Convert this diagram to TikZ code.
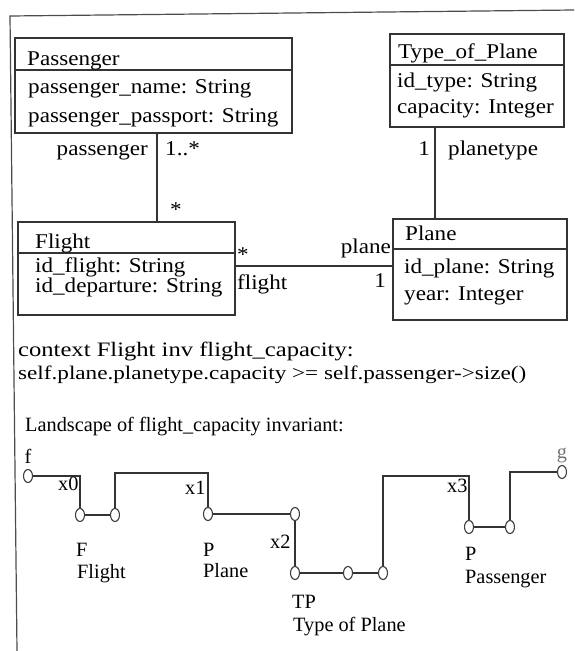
\documentclass[tikz,border=0pt]{standalone}
\usepackage{fontspec}
\setmainfont{Liberation Serif}
\newfontfamily\boxf{Liberation Serif}[FakeStretch=1.1]
\newfontfamily\widef{Liberation Serif}[FakeStretch=1.2]
\usetikzlibrary{shapes.geometric}
\begin{document}
\begin{tikzpicture}[x=1pt,y=-1pt,
  ln/.style={draw=black!80, line width=1.2pt},
  cbox/.style={ln, anchor=north west, inner sep=0pt, outer sep=0pt},
  bt/.style={anchor=base west, inner sep=0pt, font=\boxf\fontsize{21}{25}\selectfont},
  bte/.style={bt, anchor=base east},
  btc/.style={bt, anchor=base},
  lt/.style={anchor=base west, inner sep=0pt, font=\fontsize{20.3}{24}\selectfont},
  ltc/.style={lt, anchor=base},
  pt/.style={ellipse, draw=black!75, line width=1.1pt, minimum width=9pt, minimum height=13pt, inner sep=0pt},
  wire/.style={draw=black!80, line width=1.1pt},
  frame/.style={draw=black!70, line width=1.2pt},
]
\useasboundingbox (0,0) rectangle (574,651);
% frame
\draw[frame] (17,651) -- (10,16) -- (574,10);

% ---------- class boxes ----------
\node[cbox, minimum width=277pt, minimum height=32pt] (pasH) at (15,38) {};
\node[cbox, minimum width=277pt, minimum height=63pt] (pasB) at (15,70) {};
\node[bt] (pasT) at (27,65) {Passenger};
\node[bt] (pasA1) at (28,93) {passenger\_name: String};
\node[bt] (pasA2) at (28,122) {passenger\_passport: String};

\node[cbox, minimum width=174pt, minimum height=31pt] (typH) at (390,34) {};
\node[cbox, minimum width=174pt, minimum height=62pt] (typB) at (390,65) {};
\node[bt] (typT) at (398,58) {Type\_of\_Plane};
\node[bt] (typA1) at (397,87) {id\_type: String};
\node[bt] (typA2) at (397,113) {capacity: Integer};

\node[cbox, minimum width=217pt, minimum height=31pt] (fltH) at (18,222) {};
\node[cbox, minimum width=217pt, minimum height=62pt] (fltB) at (18,253) {};
\node[bt] (fltT) at (35,248) {Flight};
\node[bt] (fltA1) at (35,272) {id\_flight: String};
\node[bt] (fltA2) at (35,292) {id\_departure: String};

\node[cbox, minimum width=174pt, minimum height=30pt] (plnH) at (393,219) {};
\node[cbox, minimum width=174pt, minimum height=71pt] (plnB) at (393,249) {};
\node[bt] (plnT) at (405,240) {Plane};
\node[bt] (plnA1) at (404,273) {id\_plane: String};
\node[bt] (plnA2) at (404,300) {year: Integer};

% ---------- associations ----------
\draw[ln] (157,0 |- pasB.south) -- (157,0 |- fltH.north);
\draw[ln] (435,0 |- typB.south) -- (435,0 |- plnH.north);
\draw[ln] (fltB.east |- 0,266) -- (plnB.west |- 0,266);

\node[bte] (lpas) at (148,155) {passenger};
\node[bt] (mpas) at (165,155) {1..*};
\node[bt] (mflt1) at (170,216) {*};
\node[bte] (mtyp) at (430,155) {1};
\node[bt] (ltyp) at (448,155) {planetype};
\node[bt] (mflt2) at (237,261) {*};
\node[bt] (lflt) at (237,289) {flight};
\node[bte] (lpln) at (391,253) {plane};
\node[bte] (mpln) at (386,287) {1};

% ---------- OCL ----------
\node[anchor=base west, inner sep=0pt, font=\widef\fontsize{20.5}{24}\selectfont] (ocl1) at (18,356) {context Flight inv flight\_capacity:};
\node[anchor=base west, inner sep=0pt, font=\widef\fontsize{19.3}{23}\selectfont] (ocl2) at (18,379) {self.plane.planetype.capacity >= self.passenger->size()};

% ---------- landscape ----------
\node[lt] (ltitle) at (25,431) {Landscape of flight\_capacity invariant:};

\node[pt] (f) at (28,476) {};
\node[pt] (F1) at (80,515) {};
\node[pt] (F2) at (115,515) {};
\node[pt] (P1) at (208,514) {};
\node[pt] (P2) at (295,514) {};
\node[pt] (TP1) at (295,573) {};
\node[pt] (TP2) at (348,573) {};
\node[pt] (TP3) at (383,573) {};
\node[pt] (PA1) at (469,527) {};
\node[pt] (PA2) at (510,527) {};
\node[pt] (G) at (562,472) {};
\coordinate (c1) at (160,473);
\coordinate (c2) at (420,476);

\draw[wire] (f) -| (F1);
\draw[wire] (F1) -- (F2);
\draw[wire] (F2) |- (c1) -| (P1);
\draw[wire] (P1) -- (P2);
\draw[wire] (P2) -- (TP1);
\draw[wire] (TP1) -- (TP2) -- (TP3);
\draw[wire] (TP3) |- (c2) -| (PA1);
\draw[wire] (PA1) -- (PA2);
\draw[wire] (PA2) |- (G);

\node[ltc] (lf) at (28,463) {f};
\node[ltc, text=black!55] (lg) at (562,458) {g};
\node[lt] (lx0) at (58,490) {x0};
\node[lt] (lx1) at (185,494) {x1};
\node[lt] (lx2) at (270,548) {x2};
\node[lt] (lx3) at (447,492) {x3};

\node[lt] (lF) at (76,556) {F};
\node[lt] (lFl) at (77,578) {Flight};
\node[lt] (lP) at (203,556) {P};
\node[lt] (lPl) at (203,577) {Plane};
\node[lt] (lTP) at (292,608) {TP};
\node[lt] (lTPl) at (293,631) {Type of Plane};
\node[lt] (lPa) at (465,560) {P};
\node[lt] (lPal) at (465,583) {Passenger};
\end{tikzpicture}
\end{document}
